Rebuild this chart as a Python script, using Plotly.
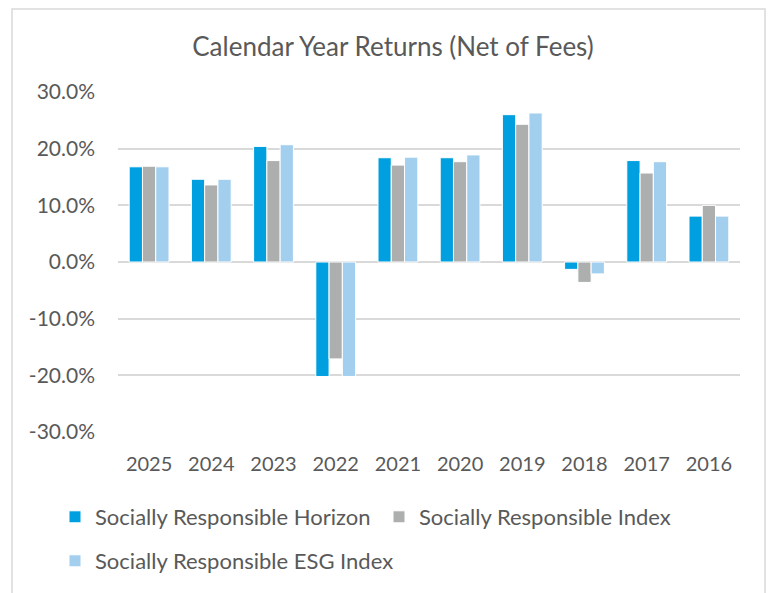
import plotly.graph_objects as go

years = ["2025", "2024", "2023", "2022", "2021", "2020", "2019", "2018", "2017", "2016"]
horizon = [16.8, 14.6, 20.4, -20.2, 18.4, 18.4, 26.0, -1.3, 17.9, 8.1]
sr_index = [16.9, 13.6, 17.9, -17.1, 17.1, 17.7, 24.3, -3.6, 15.7, 10.0]
esg_index = [16.8, 14.6, 20.7, -20.2, 18.5, 18.9, 26.3, -2.1, 17.7, 8.1]
names = ["Socially Responsible Horizon", "Socially Responsible Index", "Socially Responsible ESG Index"]
colors = ["#009FDF", "#ADAFAE", "#A3CFEF"]
legend_ids = ["legend", "legend", "legend2"]
tick_vals = [-30, -20, -10, 0, 10, 20, 30]
tick_text = ["-30.0%", "-20.0%", "-10.0%", "0.0%", "10.0%", "20.0%", "30.0%"]

fig = go.Figure()
for name, vals, c, lg in zip(names, [horizon, sr_index, esg_index], colors, legend_ids):
    fig.add_trace(go.Bar(x=years, y=vals, name=name, legend=lg,
                         marker=dict(color=c, line=dict(color="white", width=1))))

font = "Lato, 'Open Sans', sans-serif"
# page is offset by 8px body margin; compensate
L, T, PW, PH = 110, 84, 622, 340


def py(page_y):
    return 1 - (page_y - 8 - T) / PH


def px(page_x):
    return (page_x - 8 - L) / PW


fig.update_layout(
    width=781, height=593,
    margin=dict(l=L, r=781 - L - PW, t=T, b=593 - T - PH, autoexpand=False),
    paper_bgcolor="white", plot_bgcolor="white",
    barmode="group", bargap=0.36, bargroupgap=0,
    title=dict(text="Calendar Year Returns (Net of Fees)", x=(385 / 781), xanchor="center",
               y=1 - 39 / 593, yanchor="middle", font=dict(family=font, size=26, color="#595959")),
    font=dict(family=font, color="#595959"),
    xaxis=dict(type="category", showgrid=False, showline=False, ticks="",
               tickfont=dict(size=20, color="#595959"), ticklabelstandoff=18),
    yaxis=dict(range=[-30, 30], tickvals=tick_vals, ticktext=tick_text, showgrid=True, gridcolor="#D9D9D9",
               gridwidth=1.5, zeroline=True, zerolinecolor="#D9D9D9", zerolinewidth=1.5,
               tickfont=dict(size=21, color="#595959"), ticks="", ticklabelstandoff=22),
    legend=dict(orientation="h", x=px(55), xanchor="left", y=py(517), yanchor="middle",
                font=dict(size=22, color="#595959"), entrywidth=279, entrywidthmode="pixels",
                bgcolor="rgba(0,0,0,0)"),
    legend2=dict(orientation="h", x=px(55), xanchor="left", y=py(561), yanchor="middle",
                 font=dict(size=22, color="#595959"), bgcolor="rgba(0,0,0,0)"),
    showlegend=True,
    shapes=[dict(type="rect", xref="paper", yref="paper", x0=px(12), x1=px(765),
                 y0=py(640), y1=py(9), line=dict(color="#D9D9D9", width=1.5),
                 fillcolor="rgba(0,0,0,0)", layer="below")],
)
fig.write_html("out.html")
